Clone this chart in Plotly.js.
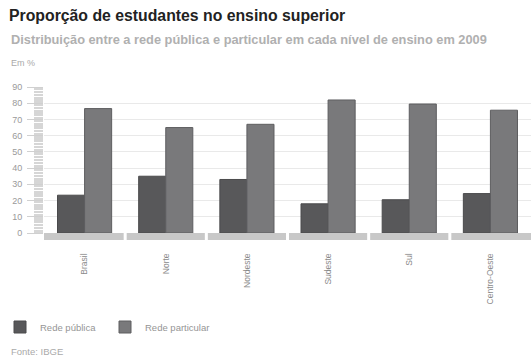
<!DOCTYPE html>
<html><head><meta charset="utf-8">
<script src="https://cdn.plot.ly/plotly-3.0.1.min.js"></script>
<style>html,body{margin:0;padding:0;background:#fff}#chart{width:531px;height:358px}</style>
</head><body><div id="chart"></div>
<script>
const categories = ["Brasil","Norte","Nordeste","Sudeste","Sul","Centro-Oeste"];
const redePublica = [23.3, 35, 33, 18, 20.5, 24.3];
const redeParticular = [76.7, 65, 67, 82, 79.5, 75.7];
const yTicks = [0,10,20,30,40,50,60,70,80,90];

const W = 531, H = 358, L = 44, R = 0, T = 86.7, B = 124.7;
const pw = W - L - R, ph = H - T - B;
const px = v => (v - L) / pw;
const py = v => (H - B - v) / ph;

const traces = [
  {type:'bar', name:'Rede pública', x:categories, y:redePublica,
   marker:{color:'#58585a', line:{color:'#4a4a4c', width:1}}, hoverinfo:'skip'},
  {type:'bar', name:'Rede particular', x:categories, y:redeParticular,
   marker:{color:'#79797b', line:{color:'#5e5e60', width:1}}, hoverinfo:'skip'}
];

// small white separators in the grey base band, at category boundaries
const separators = categories.slice(0, -1).map((c, i) => ({
  type:'line', layer:'above', xref:'x', yref:'paper', x0:i + 0.5, x1:i + 0.5,
  y0:-8/ph, y1:0, line:{color:'#ffffff', width:3}
}));

const grey = '#9a9a9a';
const xr = [-0.5, categories.length - 0.5];
const layout = {
  width: W, height: H,
  margin:{l:L, r:R, t:T, b:B, pad:0},
  paper_bgcolor:'#fff', plot_bgcolor:'#fff',
  font:{family:'Liberation Sans, Arial, sans-serif', color:grey, size:8},
  barmode:'group', bargap:0.333, bargroupgap:0,
  title:{text:'Proporção de estudantes no ensino superior', font:{size:15.8, color:'#222', family:'Liberation Sans, Arial, sans-serif', weight:'bold'},
         xref:'container', yref:'container', x:9/W, xanchor:'left', y:1-15/H, yanchor:'middle'},
  xaxis:{type:'category', range:xr, categoryorder:'array', categoryarray:categories,
         showline:true, linecolor:'#c8c8c8', linewidth:7,
         ticks:'', tickangle:-90, tickfont:{size:8.5, color:'#8a8a8a'}, ticklabelstandoff:10,
         showgrid:false, zeroline:false, fixedrange:true},
  yaxis:{range:[0,90], tickvals:yTicks, ticktext:yTicks.map(String), showline:false,
         ticks:'outside', ticklen:16, tickcolor:'#d0d0d0', tickwidth:1,
         showgrid:true, gridcolor:'#e9e9e9', gridwidth:1, zeroline:false,
         tickfont:{size:9, color:'#9a9a9a'}, ticklabelstandoff:3, fixedrange:true,
         minor:{dtick:2, tick0:1, ticks:'outside', ticklen:9, tickwidth:2.5, tickcolor:'#d6d6d6', showgrid:false}},
  shapes: separators,
  showlegend:true,
  legend:{orientation:'h', xref:'container', yref:'container', x:0, y:1-327/H, xanchor:'left', yanchor:'middle',
          font:{size:9.5, color:'#959595'}, itemwidth:30, tracegroupgap:0, entrywidth:60},
  annotations:[
    {text:'Distribuição entre a rede pública e particular em cada nível de ensino em 2009', xref:'paper', yref:'paper',
     x:px(9), y:py(39), xanchor:'left', yanchor:'middle', showarrow:false, font:{size:12.8, color:'#b0b0b0', family:'Liberation Sans, Arial, sans-serif', weight:'bold'}},
    {text:'Em %', xref:'paper', yref:'paper', x:px(9), y:py(63), xanchor:'left', yanchor:'middle', showarrow:false,
     font:{size:9, color:'#aaaaaa'}},
    {text:'Fonte: IBGE', xref:'paper', yref:'paper', x:px(9), y:py(352), xanchor:'left', yanchor:'middle', showarrow:false,
     font:{size:9.5, color:'#aaaaaa'}}
  ]
};
Plotly.newPlot('chart', traces, layout, {staticPlot:true, displayModeBar:false});
</script></body></html>
